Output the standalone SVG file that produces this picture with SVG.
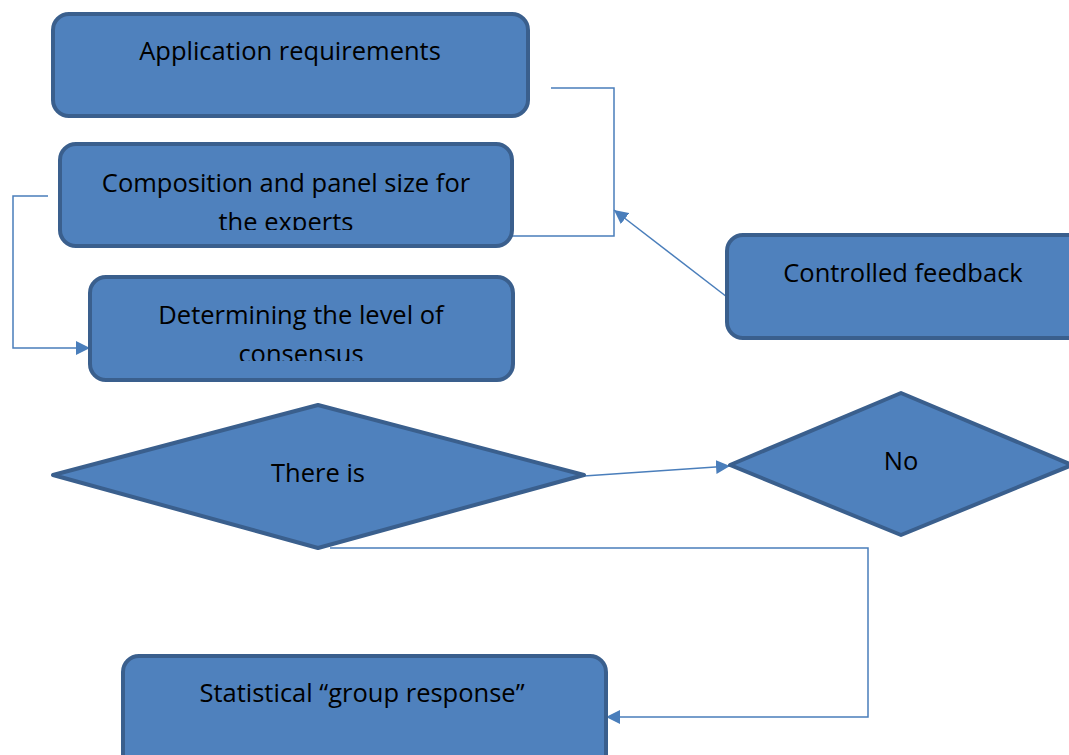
<svg xmlns="http://www.w3.org/2000/svg" width="1069" height="755" viewBox="0 0 1069 755">
<defs>
<style>
.node{fill:#4f81bd;stroke:#3a5f8d;stroke-width:4;stroke-linejoin:round}
.lbl{font-family:"Open Sans","Liberation Sans",Arial,sans-serif;font-size:25.5px;fill:#000;text-anchor:middle}
.conn{fill:none;stroke:#4a7ebb;stroke-width:1.5}
</style>
<marker id="arrL" viewBox="0 0 12 12" refX="12" refY="6" markerWidth="14" markerHeight="14" markerUnits="userSpaceOnUse" orient="auto">
<path d="M0,0 L12,6 L0,12 z" fill="#4a7ebb"/>
</marker>
<clipPath id="c2"><rect x="60" y="144" width="452" height="86"/></clipPath>
<clipPath id="c3"><rect x="90" y="277" width="423" height="84"/></clipPath>
</defs>
<rect width="1069" height="755" fill="#fff"/>
<g id="connectors">
<polyline class="conn" points="551,88 614,88 614,236 512,236"/>
<line class="conn" x1="727" y1="297" x2="614" y2="210" marker-end="url(#arrL)"/>
<polyline class="conn" points="48,196 13,196 13,348 90,348" marker-end="url(#arrL)"/>
<line class="conn" x1="584" y1="476" x2="730" y2="466" marker-end="url(#arrL)"/>
<polyline class="conn" points="330,548 868,548 868,717 606,717" marker-end="url(#arrL)"/>
</g>
<g id="n1">
<rect class="node" x="53" y="14" width="475" height="102" rx="16"/>
<text class="lbl" x="290" y="60">Application requirements</text>
</g>
<g id="n2">
<rect class="node" x="60" y="144" width="452" height="102" rx="16"/>
<g clip-path="url(#c2)">
<text class="lbl" x="286" y="192">Composition and panel size for</text>
<text class="lbl" x="286" y="231">the experts</text>
</g>
</g>
<g id="n3">
<rect class="node" x="90" y="277" width="423" height="103" rx="16"/>
<g clip-path="url(#c3)">
<text class="lbl" x="301" y="324">Determining the level of</text>
<text class="lbl" x="301" y="363">consensus</text>
</g>
</g>
<g id="n4">
<rect class="node" x="727" y="235" width="360" height="103" rx="16"/>
<text class="lbl" x="903" y="282">Controlled feedback</text>
</g>
<g id="n5">
<polygon class="node" points="53,475 318,405 584,475 318,548"/>
<text class="lbl" x="318" y="482">There is</text>
</g>
<g id="n6">
<polygon class="node" points="730,465 901,393 1072,465 901,535"/>
<text class="lbl" x="901" y="470">No</text>
</g>
<g id="n7">
<rect class="node" x="123" y="656" width="483" height="120" rx="16"/>
<text class="lbl" x="362" y="702">Statistical “group response”</text>
</g>
</svg>
